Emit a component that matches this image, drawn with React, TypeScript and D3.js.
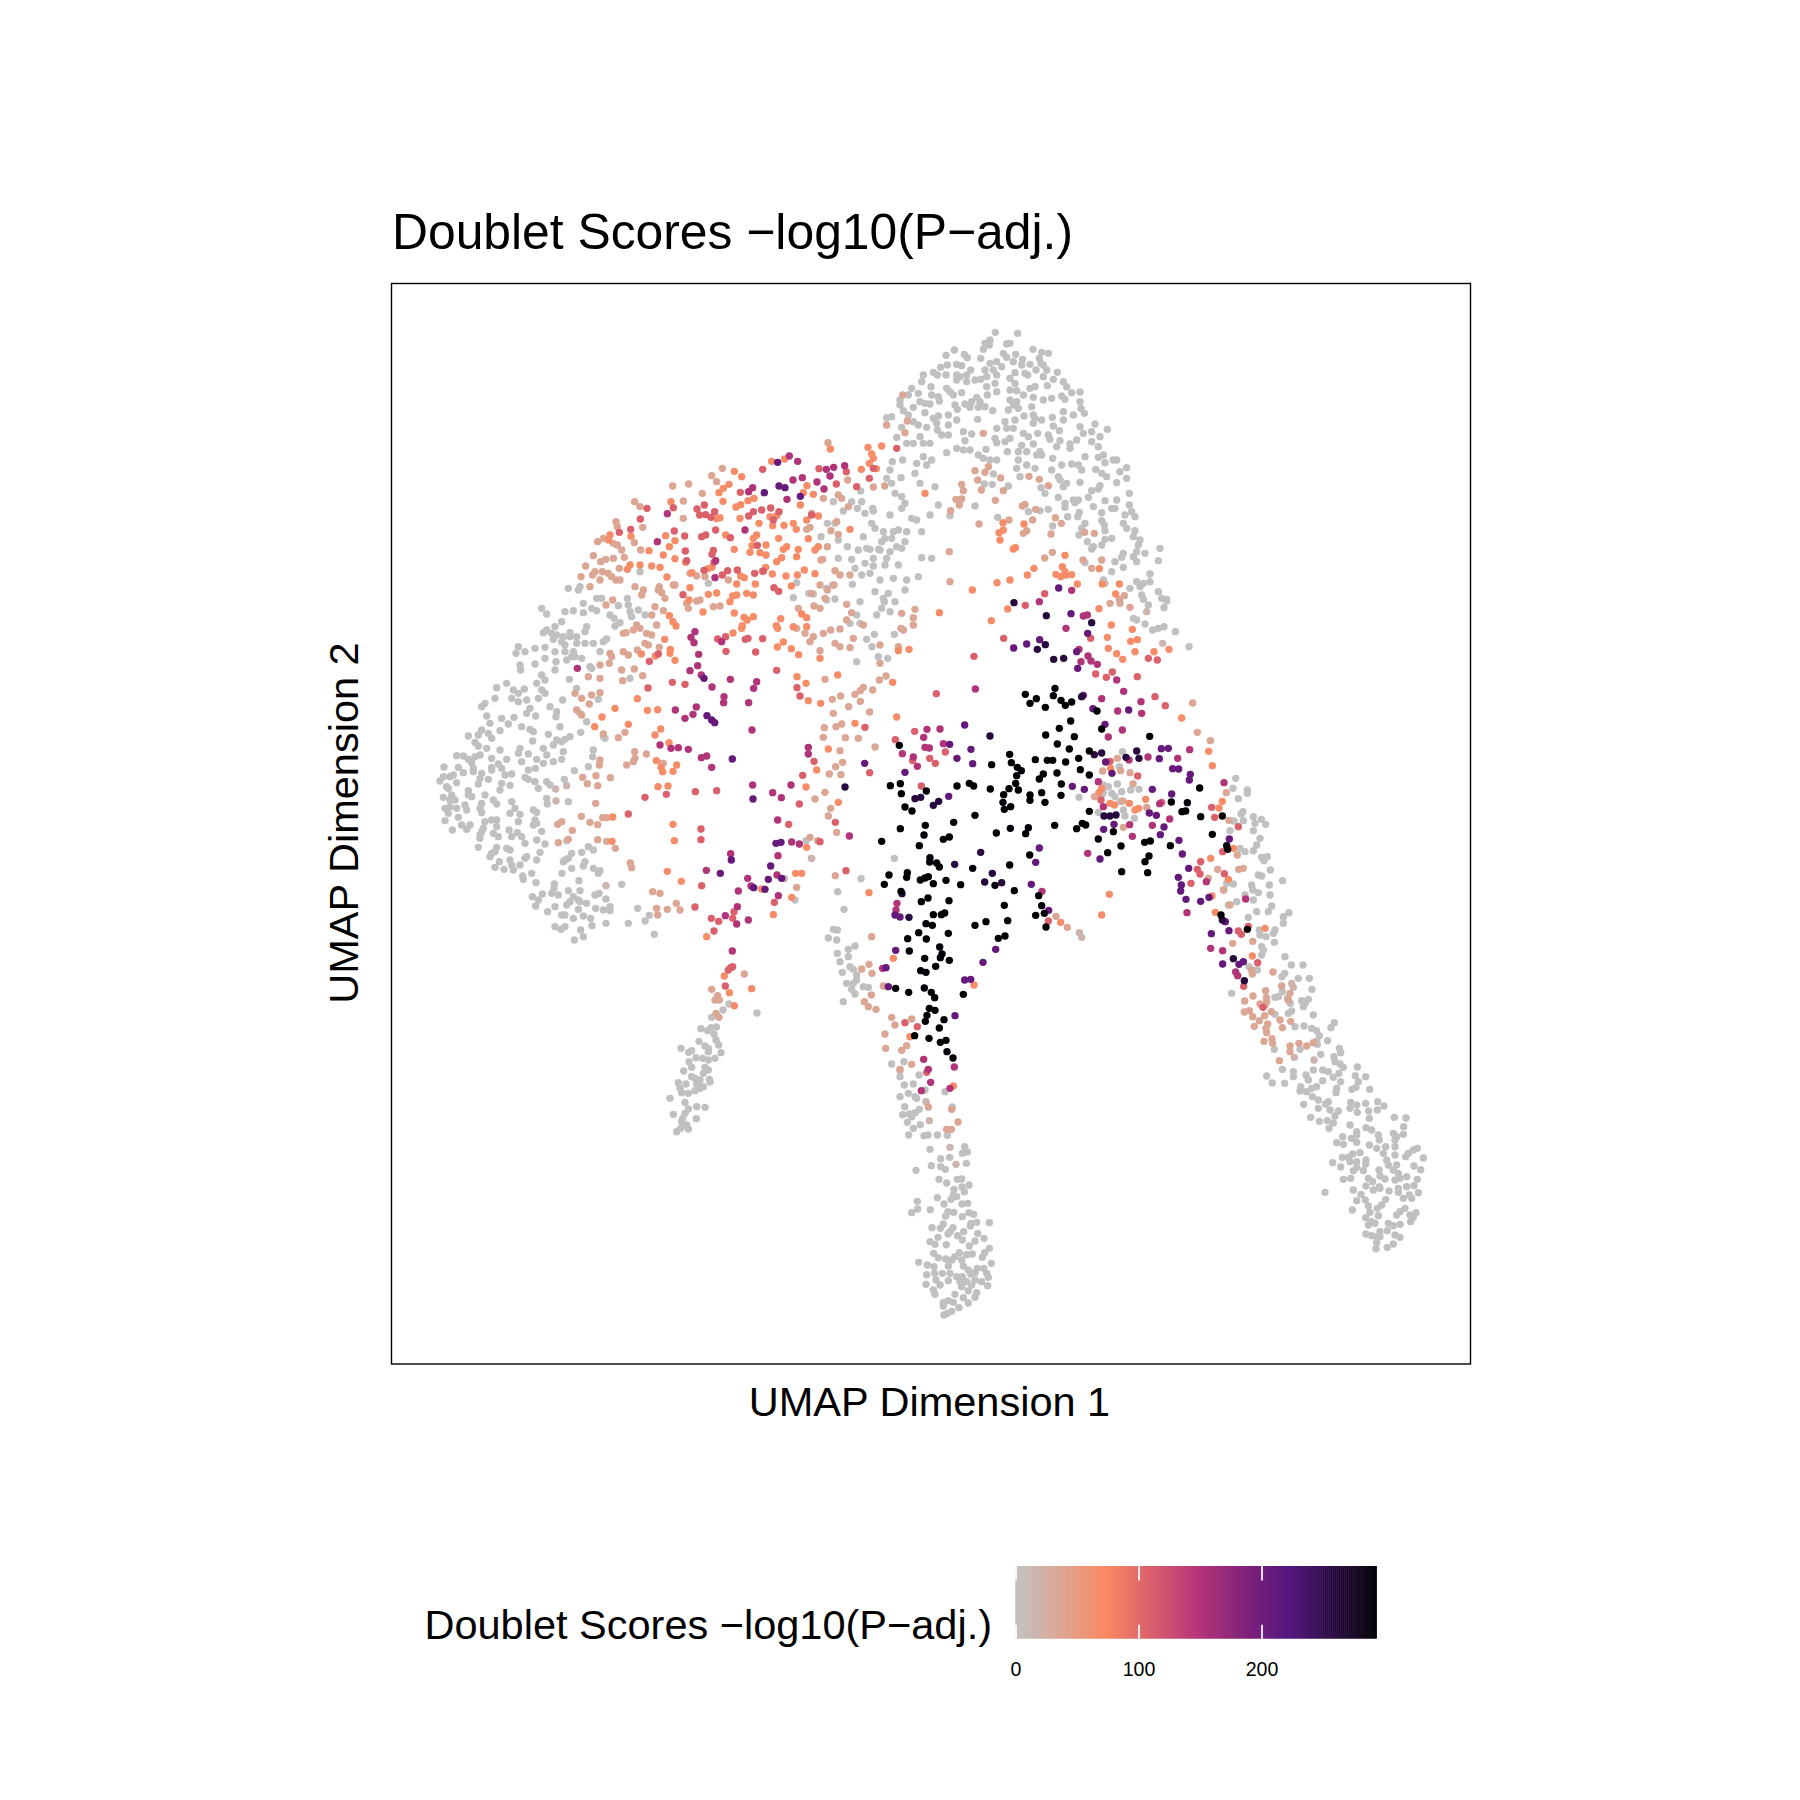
import React from "react";
import * as d3 from "d3";

const chartTitle = "Doublet Scores \u2212log10(P\u2212adj.)";
const xAxisTitle = "UMAP Dimension 1";
const yAxisTitle = "UMAP Dimension 2";
const legendTicks = [0, 100, 200];
const scoreMin = -0.6;
const scoreMax = 293;
const paletteColors = ["#C0C0C0", "#FB8861", "#B63679", "#51127C", "#000004"];

// typical -log10(P-adj.) of each group of cells
const scoreGrey = 0, scoreGreyTan = 14, scoreTan = 34, scoreOrange = 68, scoreRose = 108, scoreMagenta = 150, scorePurple = 205, scoreDark = 258, scoreBlack = 293;

const patchCentre = [408, 764];
const patchUpperLeft = [148, 924];
const patchLeft = [38, 724];
const patchTop = [458, 1044];
const patchLowerLeft = [248, 484];
const patchBottom = [468, 304];
const patchRight = [788, 404];

const centreBlack = [298,436,271,557,301,551,304,581,379,573,315,621,336,633,471,558,508,550,521,558,571,567,525,646,461,667,376,676,301,686,372,705,245,724,358,737,430,718,448,711,589,699,631,685,685,683,677,701,764,676,830,686,847,670,857,675,868,634,895,717,940,695,963,738,923,758,1034,727,1051,723,1111,737,1237,703,1202,650,1267,648,1199,564,1162,608,1114,606,1146,635,1157,633,1049,409,629,463,575,494,634,488,652,502,664,512,650,527,647,550,627,566,655,570,611,584,609,607,632,620,613,628,690,585,690,601,725,578,735,607,783,586,784,552,771,519,730,522,718,537,706,479,742,481,758,481,797,486,836,475,841,509,868,525,868,453,808,447,772,432,737,405,778,385,823,410,812,363,905,387,891,333,736,322,796,316,783,301,815,306,760,287,765,265,709,296,690,310,676,283,390,773,389,786,410,789,418,801,322,818,320,832,267,825,253,853,361,840,375,834,385,830,400,851,438,841,482,854,518,805,585,856,629,795,689,765,643,872,716,887,303,874,384,894,364,905,447,902,400,944,424,944,434,939,378,971,397,976,445,1000,356,998,323,1016,379,1017,525,976,558,965,623,962,613,916,725,917,733,940,707,946,738,981,595,1015,615,1008,328,1053,419,1041,426,1062,421,1073,374,1075,448,1081,407,1099,362,1112,378,1117,287,1165,326,1177,373,1164,394,1177,404,1193,490,1183,388,1225,405,1231,381,1246,376,1264,432,1259,418,1284,344,1307,387,1315,421,1327,438,1321,441,1355,459,1374,1280,737,1283,748,1047,768,1035,785,1043,818,965,815,1263,945,1342,988];
const centreDark = [135,561,570,408,345,596,362,592,400,616,416,604,542,757,464,793,306,881,577,820,554,846,605,848,327,952,912,648,930,648,948,645,1017,475,1010,453,905,459,883,464,978,472,845,290,736,134,712,148,761,178,791,175,875,68,739,47,642,8,1267,960,1300,1076];
const centrePurple = [641,144,680,132,719,119,813,41,863,100,830,155,833,205,986,330,879,326,850,286,915,373,494,375,513,448,449,433,471,475,518,491,194,490,315,517,446,589,817,559,853,568,936,520,917,486,1078,476,1084,446,1105,445,1118,506,1136,507,1171,523,1168,540,1057,568,1115,582,1048,639,1069,646,1092,681,1081,704,1137,721,1147,762,1166,805,1135,832,1144,855,1142,873,1158,898,1202,904,1227,892,1288,717,1287,992,1276,965,1234,1001,718,744,707,787,694,853,746,931,900,777,942,673,911,688,587,1048,549,1087,494,1140,512,1138,465,1247,258,1103,287,1051,265,1160,300,951,285,945];
const centreMagenta = [25,442,25,462,718,5,850,48,862,45,798,85,837,148,864,168,873,183,843,185,892,193,950,240,971,274,905,296,1023,305,1025,340,953,333,925,411,967,390,526,267,381,388,371,412,375,442,388,444,420,387,430,431,307,461,340,471,352,499,148,708,895,545,910,620,989,674,997,709,1057,676,1044,471,1133,475,1169,449,1272,548,1079,611,1109,657,863,760,726,874,291,910,288,930,1337,897,1161,938,1232,1045,1268,1052,1219,845,371,1378,385,1408,463,1401,392,1447,450,1465,364,1472,987,480,248,1105];
const centreRose = [676,16,611,115,522,169,409,281,872,115,887,222,919,232,937,216,1012,230,1045,175,1072,180,1065,290,1096,317,344,394,286,419,195,382,42,484,8,526,209,518,338,482,389,475,436,456,406,490,364,558,106,667,60,725,138,812,1013,528,1244,652,1235,622,1315,680,1202,785,1192,808,1200,822,1273,821,1173,850,1315,993,1324,1003,1345,979,745,963,315,1268,352,1280,380,1417,930,484,903,600,1268,755,1085,607];
const centreOrange = [418,38,574,62,623,27,897,26,934,75,922,112,997,88,1012,119,992,124,925,145,950,161,968,178,1005,155,1062,155,1107,148,327,148,295,152,60,175,113,225,18,250,25,302,62,310,165,370,290,351,278,247,20,80,20,53,5,42,85,447,50,510,18,561,115,607,20,742,207,878,5,820,280,1075,522,1155,330,1310,460,1458,897,577,932,505,930,610,943,615,1005,630,1016,625,1037,598,1145,354,1226,454,1237,497,1267,604,1257,624,1232,775,1236,888,1246,937,1300,745,1285,838,1395,985,1357,1068,905,945,928,883,782,967,905,565,988,610];
const centreTan = [75,238,97,298,122,288,100,340,146,320,181,304,209,336,258,228,238,240,218,270,190,262,181,272,165,283,295,140,120,140,150,143,120,87,92,90,70,100,15,100,40,110,60,152,30,125,105,130,60,25,42,18,140,13,155,38,190,75,140,60,160,115,240,135,303,85,310,90,340,75,340,53,345,28,305,40,240,190,73,383,108,380,125,372,136,413,175,415,225,441,70,412,120,452,128,487,107,500,123,524,88,522,75,577,45,597,92,625,85,648,110,697,30,712,53,722,106,827,215,1010,185,1107,216,1120,207,1093,250,1158,214,1185,193,1205,205,1220,228,1228,275,1252,285,1275,335,1257,255,1302,320,1337,305,1351,257,1345,300,1408,335,1393,908,513,952,475,962,512,990,518,999,552,884,590,968,603,970,682,1040,622,1178,309,1192,397,1231,422,1279,578,1287,661,1253,808,1225,835,1312,765,1316,808,1330,805,1290,915,1270,870,768,949,802,982,930,10,960,10,990,22,1298,1030,1358,1024];
const centreGreyTan = [34,775,838,998,845,1012,1040,35,1088,130];
const centreGrey = [967,455,958,500,910,555,925,560,952,552,965,575,945,590,905,585,910,578,935,580,992,570,1017,568,837,592,895,637,970,630,975,648,1003,655,960,605,1307,535,1299,565,1342,570,1342,580,1315,596,1329,635,1323,642,1360,650,1384,658,1397,673,1365,670,1330,662,1302,663,1290,692,1360,692,1380,715,1370,735,1360,752,1320,745,1335,755,1385,772,1402,770,1392,782,1411,810,1448,842,1375,825,1385,828,1355,855,1358,870,1375,878,1408,855,1410,885,1335,885,1310,905,1360,900,1415,918,1405,935,1370,935,1345,952,1280,850,1300,852,1272,870,1285,915,1467,938,1450,950,1450,970,1378,990,1425,990,1420,1000,1380,1005,1398,1010,1423,1027,1385,1040,1390,1050,1385,1065,1455,1070,1167,140,1126,95,1092,80,1075,85,1058,90,1000,55,1035,72,1045,15,1092,23,1100,3,1010,60,230,45,245,25,270,35,285,5,253,5,170,45,180,70,200,118,223,103,216,140,235,170,263,175,283,103,170,185,150,70,180,5,18,722,183,836,113,875,132,928,283,775,100,988,112,990,85,1014,110,1020,165,1038,145,1048,112,1060,145,1070,120,1085,150,1100,160,1108,127,1117,170,1125,170,1140,140,1150,160,1150,155,1168,190,1160,205,1162,165,1182,130,1205,300,1412,300,1430,275,1392,312,1385,357,1425,313,1455,340,1452,325,1480,345,1490,300,1490,375,1470,435,1475,350,1495];

const upperGrey = [1100,10,1088,60,1057,65,1050,90,1040,115,1055,130,1130,70,1125,100,1140,130,1150,50,1160,75,1175,60,1120,10,1150,10,1170,10,1185,140,1195,195,1170,225,1083,113,1065,160,1085,170,1095,190,1085,205,1050,225,1115,235,1130,240,995,250,1005,265,1030,275,1060,275,1075,270,1100,275,1145,275,1055,295,1035,295,1025,305,1095,305,1070,320,1020,330,1085,325,1050,335,1000,355,1040,355,1075,375,1145,353,1175,355,1035,375,1000,378,990,400,1060,415,1020,420,1135,410,1100,420,1095,450,1045,460,1005,455,1030,475,962,153,965,185,952,205,998,205,1000,213,975,220,880,185,935,185,910,213,885,250,862,250,843,290,895,300,970,290,922,320,955,330,980,325,990,328,1016,328,895,355,935,358,975,370,945,385,965,405,878,435,937,433,860,445,760,473,770,428,806,460,820,462,860,480,885,477,85,445,115,450,120,440,170,475,185,475,235,497,130,490,75,515,100,512,130,518,155,505,170,512,210,525,222,535,240,548,225,558,262,475,265,495,270,515,295,510,275,530,315,525,5,505,20,522,65,545,45,560,20,570,10,578,35,580,50,585,70,590,40,598,90,578,90,590,110,590,135,575,140,560,65,605,75,615,110,610,135,610,160,610,190,605,200,597,15,622,45,635,75,635,100,635,95,650,105,650,80,660,125,655,180,635,15,655,48,665,45,690,150,680,155,685,5,705,15,720,88,718,270,715,110,745,15,760,5,750,68,780,30,800,50,815,48,830,60,860,120,820,140,845,122,877,25,883,90,890,75,898,50,900,65,905,40,915,10,925,70,935,20,945,40,965,65,958,10,970,160,930,158,950,145,980,190,890,195,895,175,778,300,395,505,430,760,560];
const upperTan = [864,8,923,120,1000,141,1034,138,850,175,895,165,905,175,925,200,815,220,800,268,810,262,843,360,862,320,873,272,895,283,890,245,848,358,885,392,900,405,930,405,840,435,815,460,855,475,882,435,862,450,547,85,515,107,530,125,398,138,446,132,487,160,430,183,284,185,300,200,430,235,228,245,232,260,308,262,190,295,173,305,220,310,232,315,245,330,283,308,302,330,160,347,182,365,197,358,220,355,253,352,137,378,238,385,123,410,158,405,165,395,187,395,205,400,215,410,228,420,240,420,150,440,180,420,285,440,310,450,358,440,355,450,305,465,365,458,375,475,405,435,345,500,370,512,335,525,198,495,218,480,350,555,290,555,300,565,280,570,258,578,250,580,335,585,315,610,325,615,358,622,320,580,292,630,250,635,265,645,210,640,215,650,208,670,180,675,145,710,180,715,245,690,283,687,248,722,308,707,105,760,125,775,180,758,155,765,148,792,110,810,125,825,190,882,235,893,255,877,285,955,260,975,450,400,470,408,495,410,520,500,540,498,480,480,470,483,445,505,440,490,565,420,400,435,775,505,770,565,284,935,319,942,280,965,365,970,180,960,178,975,370,970];
const upperOrange = [871,27,984,22,1025,18,995,42,1000,55,988,70,1009,86,964,88,695,64,734,57,583,94,605,110,567,133,550,145,537,158,801,137,790,158,820,163,781,195,393,185,549,184,602,194,588,201,624,182,642,175,540,233,530,236,600,235,690,230,710,227,657,250,698,257,732,256,760,250,769,268,800,240,835,228,930,268,273,289,210,285,206,300,377,287,405,302,388,320,327,332,370,345,405,356,437,367,557,285,583,328,636,317,630,337,650,285,640,295,716,295,678,315,660,338,678,345,740,320,730,328,775,328,805,296,835,320,825,330,770,350,725,353,710,365,677,382,667,394,697,402,738,408,772,405,793,390,825,401,754,438,646,432,602,408,613,413,590,432,300,375,360,382,335,378,270,375,262,388,381,411,456,398,516,382,503,386,505,463,530,459,450,443,447,480,590,465,578,468,570,485,620,460,640,465,489,516,388,527,399,545,408,558,583,519,612,532,622,540,640,530,607,557,605,565,579,579,709,557,722,536,713,565,760,561,730,606,712,621,754,626,776,644,374,598,391,628,390,640,304,642,346,648,405,661,771,710,292,776,225,805,353,809,322,811,186,831,164,860,265,853,362,867,345,885,1155,160,387,908,349,962,410,975,363,982];
const upperRose = [668,88,837,86,919,95,988,115,889,132,950,140,601,157,400,203,321,205,493,195,471,207,479,225,524,215,497,224,513,232,626,228,640,215,692,204,665,210,717,215,700,240,815,225,301,237,272,268,238,277,403,273,434,288,497,285,485,290,527,270,571,293,436,333,520,331,516,343,440,362,522,367,492,391,563,392,592,390,547,405,644,400,670,393,702,443,716,454,429,464,652,316,533,597,557,590,616,598,624,595,668,596,558,634,647,636,710,691,328,664,355,642,397,727,435,733,324,744,771,743,780,768,1070,25,1000,85];
const upperMagenta = [748,48,773,64,859,88,881,82,914,77,870,108,787,113,759,120,831,126,852,147,638,143,626,155,741,178,382,221,615,270,352,305,527,362,525,413,465,575,453,592,462,608,476,643,473,677,450,692,484,705,516,741,571,718,650,725,641,745,552,770,551,788,626,788,469,801,406,810,459,823,435,835,636,870,545,605,112,685,360,915,393,925,415,923,445,928,484,953,500,948,515,982];
const upperPurple = [713,67,717,138,735,143,673,158,781,169,492,715,501,827,515,840,524,848,577,957];

const leftGrey = [265,20,258,40,285,35,315,25,270,75,272,90,315,72,200,143,230,130,195,175,250,150,265,160,283,147,245,175,265,185,290,180,320,130,325,175,165,190,155,200,300,205,290,220,317,228,170,228,215,235,180,250,235,252,252,232,155,270,145,285,175,280,115,288,210,272,275,260,300,268,310,275,185,295,135,307,145,318,170,325,210,330,308,303,270,325,265,340,295,342,320,358,80,347,100,348,115,358,150,345,185,355,135,350,125,368,230,358,205,372,275,365,185,382,85,382,130,385,215,385,295,390,316,385,42,381,100,398,130,395,155,400,185,390,245,402,225,405,150,415,145,432,70,405,40,410,60,410,285,412,295,418,215,430,30,423,80,428,175,418,240,436,50,440,55,445,315,425,325,445,350,425,360,435,403,418,433,392,115,452,210,450,115,465,65,465,125,470,165,465,40,472,190,480,60,480,75,480,155,490,245,485,200,492,105,495,60,500,45,505,80,505,150,505,350,475,352,492,415,485,255,505,110,510,55,520,155,518,240,520,310,510,320,517,270,523,85,532,45,542,165,545,185,540,200,540,315,540,320,550,265,545,200,560,160,565,95,555,120,555,110,568,67,570,310,555,335,574,155,575,237,570,262,578,190,580,205,590,150,595,150,585,245,590,275,590,320,600,285,610,345,612,145,622,230,625,200,622,240,630,195,635,185,640,180,650,290,650,330,637,320,660,285,655,240,660,208,665,195,682,222,688,245,675,250,690,270,675,305,700,278,708,280,718,318,728,410,602,425,640,415,655,400,665,405,660,455,637,475,620,490,630,465,665,460,678,425,685,396,700,490,685,510,692,505,700,447,722,373,732,372,745,365,760,385,765,337,762,307,770,325,780,317,798,415,752,450,752,430,770,445,780,420,785,450,785,470,790,410,795,375,800,353,815,395,825,405,825,430,835,445,808,460,828,497,805,520,810,540,800,540,812,482,835,486,857,575,733,528,777,495,765,507,760,528,850,595,850,623,805,645,843,658,826,673,883,375,860,393,868,405,860,452,870,460,890,433,900,1095,780];
const leftGreyTan = [528,737,1063,716,1145,655,410,437,377,447,378,483];
const leftTan = [541,413,498,407,458,412,472,431,503,437,497,490,454,529,480,547,383,553,395,545,503,554,518,533,530,533,427,571,503,599,530,604,415,598,385,608,556,625,601,669,605,683,668,755,690,760,739,790,680,805,683,825,712,808,750,810,1100,742];
const leftOrange = [684,440,714,438,548,531,729,553,733,602,546,604,712,694,754,724,994,747,830,890,1085,772,1030,824,1097,700,698,395,729,394];
const leftRose = [709,463,795,801,645,472,595,522,796,455,860,452,813,567,813,599,815,737,1033,787,1108,492,1076,553,844,835,866,844,852,873,912,815,908,835];
const leftMagenta = [968,435,1028,458,1054,473,1083,435,1043,540,1085,606,1108,612,1044,647,902,641,829,691,953,715,963,738,1045,767,925,753,886,827,922,800,920,852,955,840,907,933,1041,705];
const leftPurple = [969,477,1038,610,1053,607,904,660,1022,678,871,700,1015,718,971,743,1005,748,1055,715];

const topGrey = [436,37,503,40,420,60,405,70,418,75,480,70,470,72,400,88,549,88,288,106,313,90,343,103,352,113,392,115,460,100,470,112,497,103,575,97,595,100,568,115,490,125,518,118,515,135,540,133,573,130,580,135,420,130,440,125,455,140,430,150,405,150,292,135,272,142,320,133,335,137,362,150,250,157,220,165,215,185,262,165,288,165,320,165,350,165,330,170,320,180,350,185,375,180,392,178,410,170,440,165,495,158,525,160,533,165,558,150,590,150,622,157,580,170,610,178,640,185,650,200,480,175,495,190,185,205,243,200,410,200,435,190,440,215,480,210,500,212,540,205,555,200,592,197,665,218,690,216,205,220,290,205,300,215,310,225,335,218,245,225,265,230,175,225,150,240,268,243,380,232,412,225,520,225,550,232,580,240,605,235,635,228,645,238,690,245,210,245,225,250,240,252,150,255,190,262,315,255,345,252,365,245,390,245,480,240,500,245,360,262,385,262,405,260,490,255,505,265,545,260,693,265,160,272,225,278,322,268,475,270,640,275,670,285,175,285,265,288,295,285,550,285,703,280,110,293,125,290,250,295,383,298,428,272,522,288,607,292,640,300,555,295,575,300,495,300,190,305,205,315,320,300,260,310,295,315,465,305,440,325,470,325,550,310,610,318,690,320,735,312,772,328,230,322,155,322,262,330,490,325,628,332,340,335,365,342,520,340,535,350,595,345,563,340,275,345,295,345,210,350,725,335,750,350,700,340,140,352,435,355,480,355,465,365,440,368,345,362,600,358,630,362,680,360,725,365,660,372,745,380,550,372,515,376,620,380,660,385,290,398,320,385,340,390,360,390,408,388,472,395,505,395,530,395,570,395,385,405,400,415,420,420,440,420,560,405,608,415,575,405,705,410,745,412,760,405,790,420,800,420,765,428,830,443,505,420,530,435,500,445,555,445,510,470,635,435,665,432,685,435,695,450,737,448,605,450,810,455,770,470,755,460,625,470,830,475,800,488,650,490,640,500,630,480,690,487,750,497,725,512,745,507,838,520,430,462,403,492,427,493,475,498,573,503,585,520,625,532,715,532,765,542,800,540,838,555,670,540,685,540,645,550,675,548,645,562,795,565,785,565,730,560,755,578,825,585,845,575,855,590,535,575,570,572,595,568,688,577,683,590,653,590,705,610,755,602,763,615,820,610,830,625,855,632,850,650,765,632,687,645,695,625,608,618,870,660,865,675,712,665,730,680,765,658,785,655,755,675,725,687,860,695,930,685,925,722,885,700,820,700,850,710,795,725,815,712,860,725,705,728,820,742,785,755,900,762,760,780,860,785,880,790,900,785,870,800,875,825,925,815,935,835,950,838,880,838,765,790,840,805,375,558,300,587,443,592];
const topTan = [158,225,172,303,110,315,165,338,400,340,375,452,415,440,405,457,383,480,335,493,340,512,394,510,335,537,318,538,328,555,302,572,436,541,452,474,460,512,525,553,517,558,557,568,387,612,477,600,548,600,616,593,634,610,520,640,530,632,603,642,595,497,537,469,568,478,298,695,300,785,607,697,584,714,699,720,755,720,725,745,704,637,733,640,808,838,823,827];
const topOrange = [459,608,522,612,460,630,447,638,450,660,490,687,496,683,552,745,532,765,645,706,367,810,441,788,480,780,618,763,632,770,648,765,665,764,637,740,645,755,682,792,748,746,797,822,808,792,757,792];
const topRose = [584,821];
const topMagenta = [665,811];
const topPurple = [626,804];

const lowerLeftGrey = [267,372,351,399,249,390,215,412,228,405,183,446,203,452,213,443,229,441,222,463,228,480,236,495,243,518,177,484,123,505,155,512,146,517,195,498,205,505,205,515,168,533,188,535,205,540,225,535,147,545,155,562,195,562,205,570,190,580,131,573,155,590,165,595,180,600,208,598,210,606,115,608,138,612,170,612,190,620,120,625,125,638,145,640,165,632,180,625,90,655,135,667,170,680,195,682,145,687,100,703,135,700,128,715,125,725,140,735,169,716,145,747,122,745,110,755];
const lowerLeftTan = [313,282,215,328,233,347,225,360,238,360,237,412,228,400];
const lowerLeftOrange = [253,288,268,338,335,326,283,377];
const lowerLeftRose = [256,318,265,270,278,260,272,263];

const bottomGrey = [277,141,134,140,178,148,165,158,148,162,128,164,155,170,142,187,181,194,160,205,146,225,192,227,204,225,232,225,262,226,210,268,314,260,307,280,322,276,269,292,242,296,319,310,214,317,242,320,256,328,168,331,237,358,260,369,292,358,305,357,327,375,306,381,282,388,313,395,280,405,273,418,290,410,232,413,252,432,306,432,323,430,172,424,173,447,211,449,155,458,264,455,281,457,257,468,307,470,327,458,341,463,333,490,350,487,388,488,331,498,250,492,241,505,216,503,279,503,270,515,264,522,311,515,293,527,307,540,353,520,234,532,210,545,225,553,259,554,372,535,345,543,328,558,388,565,374,578,367,592,221,580,235,593,298,578,285,590,337,582,320,584,257,597,275,600,265,618,305,600,394,610,176,607,202,615,222,620,224,640,200,644,247,640,270,640,310,618,325,630,352,625,371,625,332,642,345,638,380,640,290,650,307,650,385,652,228,660,265,662,300,665,320,665,345,660,365,665,198,673,240,675,335,675,383,677,220,690,305,680,325,692,225,703,350,698,345,712,285,703,310,713,265,722,250,728,280,727,325,729,250,738,297,743,275,754,262,760,252,765];
const bottomGreyTan = [198,125,208,182,270,262,288,313];
const bottomTan = [205,141,275,148,294,186,260,208,274,208];

const rightGrey = [207,20,232,30,314,40,306,50,334,15,355,55,155,100,345,200,285,112,295,110,307,95,322,115,331,130,325,160,335,153,285,163,283,268,360,268,307,328,340,335,340,350,260,348,277,369,314,370,388,55,396,88,369,15,365,122,385,118,370,140,375,130,400,165,372,198,395,205,410,212,418,227,410,243,412,253,443,242,463,188,453,203,422,283,478,265,482,278,462,290,465,305,480,312,490,322,532,321,400,330,428,330,445,335,460,352,477,340,526,347,557,350,535,365,528,382,516,388,569,388,482,365,470,385,468,398,428,362,378,345,385,360,410,380,395,385,380,395,362,380,360,393,397,410,415,420,371,433,445,425,437,432,450,450,415,445,475,453,465,468,392,472,418,484,442,482,460,489,447,505,512,427,510,445,530,435,532,457,557,430,593,425,612,438,592,450,566,453,568,475,643,472,678,474,671,500,510,495,558,503,575,510,530,515,530,525,514,535,530,547,488,530,470,548,490,553,595,525,598,540,640,520,650,530,670,523,645,540,568,555,590,565,617,560,645,560,610,580,645,585,712,565,700,570,685,580,677,590,730,594,540,578,518,582,505,592,487,592,458,608,482,621,510,605,530,605,558,600,557,612,620,600,625,615,650,615,640,630,530,622,520,632,550,632,597,630,702,618,722,629,655,640,660,655,600,648,565,655,578,665,615,657,645,660,680,650,712,658,490,658,512,655,558,678,598,680,580,690,600,685,680,680,702,677,520,690,655,685,655,697,627,693,715,698,435,697,543,703,688,705,670,715,695,715,530,722,617,718,556,720,605,735,565,738,592,745,517,750,570,757,675,745,660,755,690,765,708,758,650,765,700,772,692,785,557,773,575,785,595,767,625,790,585,790,565,795,640,797,660,793,622,812,558,822,600,815,575,827,590,830,645,825,660,832,600,830,590,848,588,866,640,852,622,862];
const rightGreyTan = [402,300,335,70,340,82,343,292];
const rightTan = [215,30,217,42,279,36,257,92,219,108,194,123,259,113,260,125,240,132,255,135,305,78,330,100,325,120,193,156,208,152,218,170,254,167,274,155,263,192,258,205,260,218,223,199,307,203,300,180,252,244,276,236,278,250,330,258,357,250,380,258,330,275,298,302,400,248,238,182,332,184];
const rightRose = [249,142,191,79,233,8];
const rightMagenta = [167,36,173,47];
const rightPurple = [128,12,190,5,177,13];
const rightDark = [193,62];

const cellBatches: [number[], number, number[]][] = [
  [patchCentre, scoreGrey, centreGrey], [patchUpperLeft, scoreGrey, upperGrey], [patchLeft, scoreGrey, leftGrey], [patchTop, scoreGrey, topGrey],
  [patchLowerLeft, scoreGrey, lowerLeftGrey], [patchBottom, scoreGrey, bottomGrey], [patchRight, scoreGrey, rightGrey],
  [patchCentre, scoreGreyTan, centreGreyTan], [patchLeft, scoreGreyTan, leftGreyTan], [patchBottom, scoreGreyTan, bottomGreyTan], [patchRight, scoreGreyTan, rightGreyTan],
  [patchCentre, scoreTan, centreTan], [patchUpperLeft, scoreTan, upperTan], [patchLeft, scoreTan, leftTan], [patchTop, scoreTan, topTan],
  [patchLowerLeft, scoreTan, lowerLeftTan], [patchBottom, scoreTan, bottomTan], [patchRight, scoreTan, rightTan],
  [patchCentre, scoreOrange, centreOrange], [patchUpperLeft, scoreOrange, upperOrange], [patchLeft, scoreOrange, leftOrange], [patchTop, scoreOrange, topOrange], [patchLowerLeft, scoreOrange, lowerLeftOrange],
  [patchCentre, scoreRose, centreRose], [patchUpperLeft, scoreRose, upperRose], [patchLeft, scoreRose, leftRose], [patchTop, scoreRose, topRose], [patchLowerLeft, scoreRose, lowerLeftRose], [patchRight, scoreRose, rightRose],
  [patchCentre, scoreMagenta, centreMagenta], [patchUpperLeft, scoreMagenta, upperMagenta], [patchLeft, scoreMagenta, leftMagenta], [patchTop, scoreMagenta, topMagenta], [patchRight, scoreMagenta, rightMagenta],
  [patchCentre, scorePurple, centrePurple], [patchUpperLeft, scorePurple, upperPurple], [patchLeft, scorePurple, leftPurple], [patchTop, scorePurple, topPurple], [patchRight, scorePurple, rightPurple],
  [patchCentre, scoreDark, centreDark], [patchRight, scoreDark, rightDark],
  [patchCentre, scoreBlack, centreBlack],
];

const cells: { u1: number; u2: number; score: number }[] = [];
for (const [origin, score, values] of cellBatches) {
  for (let i = 0; i + 1 < values.length; i += 2) {
    cells.push({ u1: origin[0] + values[i] / 3, u2: origin[1] - values[i + 1] / 3, score });
  }
}

const panel = { left: 391.5, right: 1470.5, top: 283.5, bottom: 1364 };
const x = d3.scaleLinear().domain([-0.5, 1078.5]).range([panel.left, panel.right]);
const y = d3.scaleLinear().domain([0, 1080.5]).range([panel.bottom, panel.top]);
const color = d3
  .scaleLinear<string>()
  .domain(paletteColors.map((_, i) => (scoreMax * i) / (paletteColors.length - 1)))
  .range(paletteColors)
  .interpolate(d3.interpolateRgb)
  .clamp(true);

const legendX = d3.scaleLinear().domain([0, scoreMax]).range([1016, 1376.4]);
const legendStep = (scoreMax - scoreMin) / 180;
const legendSteps = d3.range(scoreMin, scoreMax - legendStep / 2, legendStep);
const legendTop = 1566;
const legendBottom = 1638.7;
const font = "'Liberation Sans', Arial, sans-serif";

export default function App() {
  return (
    <svg width={1800} height={1800} viewBox="0 0 1800 1800" style={{ position: "absolute", left: 0, top: 0, background: "#fff" }} fontFamily={font}>
      <text x={392} y={249} fontSize={49.8} fill="#000">{chartTitle}</text>
      <g>
        {cells.map((c, i) => (
          <circle key={i} cx={x(c.u1)} cy={y(c.u2)} r={3.7} fill={color(c.score)} />
        ))}
      </g>
      <rect x={panel.left} y={panel.top} width={panel.right - panel.left} height={panel.bottom - panel.top} fill="none" stroke="#000" strokeWidth={1.4} />
      <text x={929.5} y={1416} fontSize={41.5} textAnchor="middle" fill="#000">{xAxisTitle}</text>
      <text transform="translate(358,823) rotate(-90)" fontSize={41.5} textAnchor="middle" fill="#000">{yAxisTitle}</text>
      <text x={992} y={1639} fontSize={41.5} textAnchor="end" fill="#000">{chartTitle}</text>
      <g>
        {legendSteps.map((s) => (
          <rect key={s} x={legendX(s)} y={legendTop} width={legendX(legendStep) - legendX(0) + 0.5} height={legendBottom - legendTop} fill={color(s)} />
        ))}
      </g>
      {legendTicks.map((t) => (
        <g key={t}>
          <line x1={legendX(t)} x2={legendX(t)} y1={legendTop} y2={legendTop + 14.5} stroke="#fff" strokeWidth={1.7} />
          <line x1={legendX(t)} x2={legendX(t)} y1={legendBottom - 14} y2={legendBottom} stroke="#fff" strokeWidth={1.7} />
          <text x={legendX(t)} y={1676} fontSize={19.6} textAnchor="middle" fill="#000">{t}</text>
        </g>
      ))}
    </svg>
  );
}
